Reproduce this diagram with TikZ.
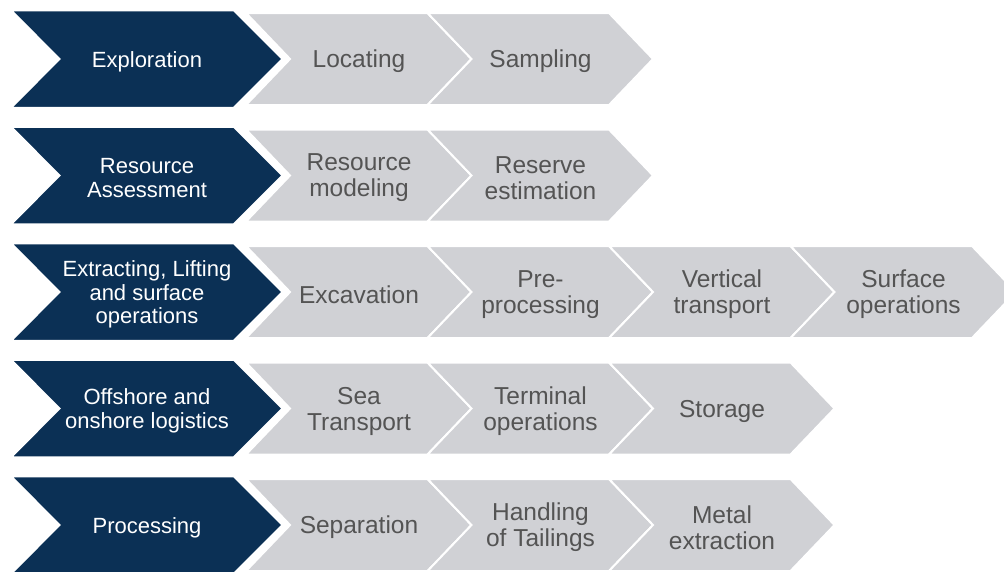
\documentclass[tikz,border=0pt]{standalone}
\usepackage{fontspec}
\setmainfont{Liberation Sans}
\usepackage{tikz}

\definecolor{stepnavy}{RGB}{11,48,85}
\definecolor{stepgray}{RGB}{208,209,213}
\definecolor{stepink}{RGB}{84,84,84}

\tikzset{
  headlabel/.style={text=white, align=center, yshift=-2.5pt, font=\fontsize{22}{23.5}\selectfont},
  sublabel/.style={text=stepink, align=center, yshift=-2.5pt, font=\fontsize{24.5}{26}\selectfont},
  headfill/.style={fill=stepnavy, draw=white, line width=2.5pt, line join=miter},
  subfill/.style={fill=stepgray, draw=white, line width=2pt, line join=miter}
}

% dark phase chevron: name, centre y, text
\newcommand{\phasechev}[3]{%
  \path[headfill] (10.5,#2-49) -- (234,#2-49) -- (283,#2) -- (234,#2+49)
    -- (10.5,#2+49) -- (59,#2) -- cycle;
  \node[headlabel] (#1) at (147,#2) {#3};}

% grey step chevron: name, left x, centre y, text
\newcommand{\stepchev}[4]{%
  \path[subfill] (#2,#3-46) -- (#2+181.5,#3-46) -- (#2+225.5,#3) -- (#2+181.5,#3+46)
    -- (#2,#3+46) -- (#2+44,#3) -- cycle;
  \node[sublabel] (#1) at (#2+113,#3) {#4};}

\begin{document}
\begin{tikzpicture}[x=1pt, y=-1pt]
  \useasboundingbox (0,0) rectangle (1004,571);

  % exploration
  \stepchev{locate}{246}{59}{Locating}
  \stepchev{sample}{427.5}{59}{Sampling}
  \phasechev{explore}{59}{Exploration}

  % resource assessment
  \stepchev{model}{246}{175.5}{Resource\\modeling}
  \stepchev{reserve}{427.5}{175.5}{Reserve\\estimation}
  \phasechev{assess}{175.5}{Resource\\Assessment}

  % extracting
  \stepchev{excav}{246}{292}{Excavation}
  \stepchev{preproc}{427.5}{292}{Pre-\\processing}
  \stepchev{vertical}{609}{292}{Vertical\\transport}
  \stepchev{surface}{790.5}{292}{Surface\\operations}
  \phasechev{extract}{292}{Extracting, Lifting\\and surface\\operations}

  % logistics
  \stepchev{sea}{246}{408.5}{Sea\\Transport}
  \stepchev{terminal}{427.5}{408.5}{Terminal\\operations}
  \stepchev{storage}{609}{408.5}{Storage}
  \phasechev{logist}{408.5}{Offshore and\\onshore logistics}

  % processing
  \stepchev{separate}{246}{525}{Separation}
  \stepchev{tailings}{427.5}{525}{Handling\\of Tailings}
  \stepchev{metal}{609}{525}{Metal\\extraction}
  \phasechev{process}{525}{Processing}
\end{tikzpicture}
\end{document}
